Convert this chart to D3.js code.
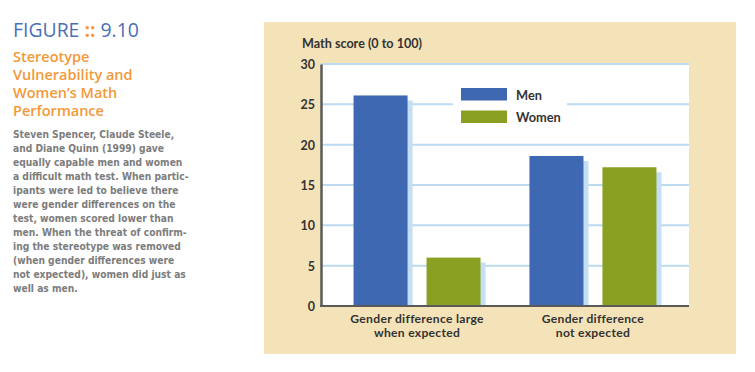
<!DOCTYPE html>
<html><head><meta charset="utf-8">
<script src="https://cdn.jsdelivr.net/npm/d3@7"></script>
<style>body{margin:0;background:#fff}svg{display:block}</style>
</head><body><svg id="c" width="755" height="372"></svg>
<script>
const categories = [["Gender difference large","when expected"],["Gender difference","not expected"]];
const seriesNames = ["Men","Women"];
const men = [26.1, 18.6];
const women = [6.0, 17.2];
const yTicks = [0,5,10,15,20,25,30];
const titleLines = ["Stereotype","Vulnerability and","Women\u2019s Math","Performance"];
const bodyLines = ["Steven Spencer, Claude Steele,","and Diane Quinn (1999) gave","equally capable men and women","a difficult math test. When partic-","ipants were led to believe there","were gender differences on the","test, women scored lower than","men. When the threat of confirm-","ing the stereotype was removed","(when gender differences were","not expected), women did just as","well as men."];

const colors = {Men:"#3e68b1", Women:"#8aa023"};
const svg = d3.select("#c");
const F = "'Open Sans', sans-serif";
const L = "Lato, 'Open Sans', sans-serif";

// Left text
const fig = svg.append("text").attr("x",13).attr("y",36.5).attr("font-family",F).attr("font-size",19.4).attr("fill","#4a6fb6");
fig.append("tspan").text("FIGURE ");
fig.append("tspan").attr("fill","#f3993a").attr("font-weight",700).text("::");
fig.append("tspan").text(" 9.10");
svg.append("g").selectAll("text").data(titleLines).join("text")
  .attr("x",13).attr("y",(d,i)=>61.5+i*18.3).attr("font-family",F).attr("font-size",14.5).attr("font-weight",600)
  .attr("fill","#f3993a").text(d=>d);
svg.append("g").selectAll("text").data(bodyLines).join("text")
  .attr("x",13).attr("y",(d,i)=>138+i*14).attr("font-family","'DejaVu Sans Condensed','Liberation Sans Narrow',sans-serif")
  .attr("font-size",10.2).attr("font-weight",700).attr("fill","#7d7d7d").text(d=>d);

// Panel
svg.append("rect").attr("x",264).attr("y",22).attr("width",472).attr("height",332).attr("fill","#f4e2b8");

const x0 = 321, x1 = 689;
const y = d3.scaleLinear().domain([0,30]).range([306,64]);
const xg = d3.scaleBand().domain([0,1]).range([x0,x1]).paddingInner(0.278).paddingOuter(0.185);
const xs = d3.scaleBand().domain(seriesNames).range([0,xg.bandwidth()]).paddingInner(0.26);

svg.append("rect").attr("x",x0).attr("y",y(30)).attr("width",x1-x0).attr("height",y(0)-y(30)).attr("fill","#fff");

// gridlines
const grid = svg.append("g");
yTicks.filter(t=>t>0).forEach(t=>{
  if (t===25){
    grid.append("line").attr("x1",x0).attr("x2",453).attr("y1",y(t)).attr("y2",y(t));
    grid.append("line").attr("x1",567).attr("x2",x1).attr("y1",y(t)).attr("y2",y(t));
  } else {
    grid.append("line").attr("x1",x0).attr("x2",x1).attr("y1",y(t)).attr("y2",y(t));
  }
});
grid.selectAll("line").attr("stroke","#bcdaf0").attr("stroke-width",2);

// bars
const data = [];
categories.forEach((c,i)=>{data.push({g:i,s:"Men",v:men[i]});data.push({g:i,s:"Women",v:women[i]});});
const bars = svg.append("g");
bars.selectAll("rect.sh").data(data).join("rect").attr("class","sh")
  .attr("x",d=>xg(d.g)+xs(d.s)+5).attr("y",d=>y(d.v)+5).attr("width",xs.bandwidth())
  .attr("height",d=>y(0)-y(d.v)-5).attr("fill","#c5def3");
bars.selectAll("rect.b").data(data).join("rect").attr("class","b")
  .attr("x",d=>xg(d.g)+xs(d.s)).attr("y",d=>y(d.v)).attr("width",xs.bandwidth())
  .attr("height",d=>y(0)-y(d.v)).attr("fill",d=>colors[d.s]);

// axes
const ya = svg.append("g").attr("transform",`translate(${x0},0)`)
  .call(d3.axisLeft(y).tickValues(yTicks).tickSize(0).tickPadding(6));
ya.select(".domain").attr("stroke","#5a5a5a").attr("stroke-width",2.5);
ya.selectAll("text").attr("font-family",L).attr("font-size",12.5).attr("font-weight",700).attr("fill","#333").attr("dy","0.35em");
svg.append("line").attr("x1",x0-1).attr("x2",x1).attr("y1",y(0)).attr("y2",y(0)).attr("stroke","#5a5a5a").attr("stroke-width",2);

svg.append("text").attr("x",302).attr("y",47.5).attr("font-family",L).attr("font-size",12.6).attr("font-weight",700).attr("fill","#333").text("Math score (0 to 100)");

// category labels
categories.forEach((c,i)=>{
  const cx = xg(i)+xg.bandwidth()/2;
  svg.append("text").attr("text-anchor","middle").attr("font-family",L).attr("font-size",12.1).attr("font-weight",700)
    .attr("letter-spacing",0.3).attr("fill","#333")
    .selectAll("tspan").data(c).join("tspan").attr("x",cx).attr("y",(d,j)=>322.5+j*14.8).text(d=>d);
});

// legend
const lg = svg.append("g").attr("transform","translate(461,88)");
seriesNames.forEach((s,i)=>{
  lg.append("rect").attr("x",0).attr("y",i*22.5).attr("width",46).attr("height",12.5).attr("fill",colors[s]);
  lg.append("text").attr("x",55).attr("y",i*22.5+11.5).attr("font-family",L).attr("font-size",12.8).attr("font-weight",700).attr("fill","#333").text(s);
});
</script></body></html>
